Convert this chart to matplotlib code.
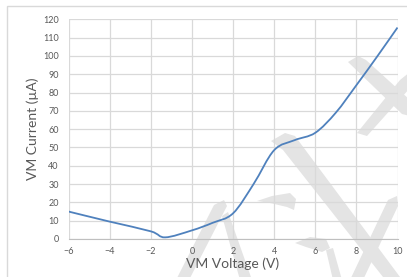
import matplotlib
matplotlib.use("Agg")
import matplotlib.pyplot as plt
from matplotlib.path import Path
from matplotlib.patches import PathPatch, Polygon, Rectangle

# data
voltage = [-6, -4, -2, -1.3, 0, 1, 2, 3, 4, 5, 6, 7, 8, 9, 10]
current = [15, 9.5, 4.2, 0.9, 4.7, 8.8, 14, 30, 48.5, 54, 58, 69, 84, 99.5, 115.5]
x_ticks = [-6, -4, -2, 0, 2, 4, 6, 8, 10]
y_ticks = list(range(0, 121, 10))

LINE = "#4f81bd"
GRID = "#d9d9d9"
TEXT = "#595959"
WATERMARK = "#e4e4e4"


def smooth_path(xs, ys):
    # Excel-style smoothed line: cubic Bezier through every point
    pts = list(zip(xs, ys))
    n = len(pts)
    verts = [pts[0]]
    codes = [Path.MOVETO]
    for i in range(n - 1):
        p0 = pts[max(i - 1, 0)]
        p1 = pts[i]
        p2 = pts[i + 1]
        p3 = pts[min(i + 2, n - 1)]
        c1 = (p1[0] + (p2[0] - p0[0]) / 6, p1[1] + (p2[1] - p0[1]) / 6)
        c2 = (p2[0] - (p3[0] - p1[0]) / 6, p2[1] - (p3[1] - p1[1]) / 6)
        verts += [c1, c2, p2]
        codes += [Path.CURVE4] * 3
    return Path(verts, codes)


plt.rcParams["font.family"] = ["Lato", "DejaVu Sans"]
fig = plt.figure(figsize=(4.07, 2.77), dpi=100)

# watermark strokes, drawn behind grid and text (pixel coords, y down)
bg = fig.add_axes([0, 0, 1, 1], zorder=0)
bg.set_xlim(0, 407)
bg.set_ylim(277, 0)
bg.axis("off")
shapes = [
    [(271, 141), (285, 133), (295, 136), (400, 277), (383, 277), (283, 150)],
    [(348, 62), (358, 56), (366, 60), (410, 100), (410, 116), (402, 114)],
    [(400, 80), (410, 72), (410, 88), (367, 136), (357, 133)],
    [(214, 205), (224, 200), (227, 206), (189, 280), (176, 280)],
    [(222, 216), (228, 212), (252, 280), (240, 280)],
    [(257, 201), (272, 196), (290, 193), (296, 199), (294, 210), (287, 207), (270, 203)],
    [(295, 243), (310, 237), (326, 239), (330, 248), (322, 252), (306, 247)],
    [(326, 250), (333, 248), (342, 280), (333, 280)],
    [(388, 200), (397, 196), (398, 206), (363, 280), (350, 280)],
]
for pts in shapes:
    bg.add_patch(Polygon(pts, closed=True, color=WATERMARK, lw=0))

# outer chart border
fig.patches.append(Rectangle((7 / 407, -0.1), 1.2, 1 - 6 / 277 + 0.1,
                             transform=fig.transFigure, fill=False,
                             edgecolor="#d9d9d9", lw=1.0))

ax = fig.add_axes([68.5 / 407, 1 - 239 / 277, 329 / 407, 219.7 / 277], zorder=1)
ax.patch.set_alpha(0)
ax.add_patch(PathPatch(smooth_path(voltage, current), fill=False,
                       edgecolor=LINE, lw=1.3, zorder=3))
ax.set_xlim(-6, 10)
ax.set_ylim(0, 120)
ax.set_xticks(x_ticks)
ax.set_yticks(y_ticks)
ax.grid(True, color=GRID, lw=0.9)
ax.set_axisbelow(True)
for side in ["top", "right", "left"]:
    ax.spines[side].set_visible(False)
ax.spines["bottom"].set_color("#bfbfbf")
ax.tick_params(length=0, labelsize=6.5, labelcolor=TEXT)
ax.tick_params(axis="x", pad=6)
ax.tick_params(axis="y", pad=7)
ax.set_xlabel("VM Voltage (V)", fontsize=10, color=TEXT, labelpad=1)
ax.set_ylabel("VM Current (µA)", fontsize=10, color=TEXT, labelpad=3)

fig.savefig("out.png", dpi=100)
